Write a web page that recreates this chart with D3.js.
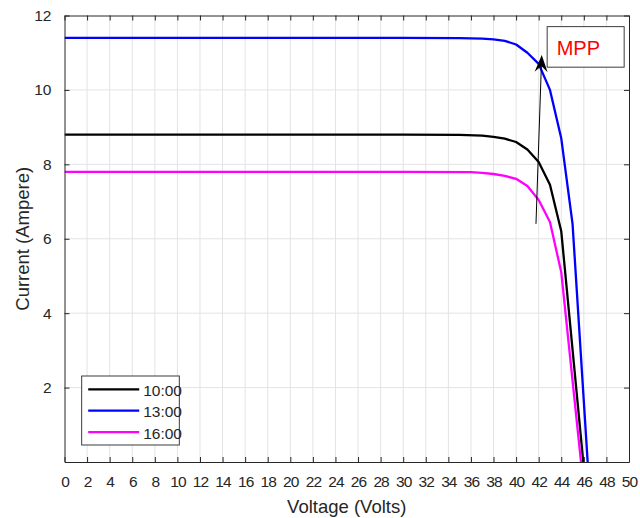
<!DOCTYPE html>
<html>
<head>
<meta charset="utf-8">
<script src="https://cdn.jsdelivr.net/npm/d3@7"></script>
<style>
  body { margin: 0; background: #fff; }
  text { font-family: "Liberation Sans", Arial, sans-serif; fill: #262626; }
</style>
</head>
<body>
<script>
// I-V curves (voltage in V, current in A)
var voltage1000 = [0, 30, 35, 37, 38, 39, 40, 41, 42, 43, 44, 45.95];
var current1000 = [8.8, 8.8, 8.79, 8.77, 8.74, 8.69, 8.6, 8.4, 8.06, 7.45, 6.2, 0];

var voltage1300 = [0, 30, 35, 37, 38, 39, 40, 41, 42, 43, 44, 45, 46.34];
var current1300 = [11.4, 11.4, 11.39, 11.38, 11.36, 11.32, 11.22, 11.0, 10.7, 10.0, 8.7, 6.4, 0];

var voltage1600 = [0, 30, 36, 37, 38, 39, 40, 41, 42, 43, 44, 45.75];
var current1600 = [7.8, 7.8, 7.79, 7.77, 7.74, 7.69, 7.61, 7.42, 7.04, 6.45, 5.1, 0];

var seriesNames = ["10:00", "13:00", "16:00"];
var seriesColors = ["#000000", "#0000ff", "#ff00ff"];

var xTicks = d3.range(0, 51, 2);
var yTicks = [2, 4, 6, 8, 10, 12];

// annotation: arrow tail/head in data units, label
var arrowFrom = [41.76, 6.4];
var arrowTo = [42.27, 10.94];
var mppLabel = "MPP";

// SVG area
var svgWidth = 640;
var svgHeight = 518;
var margin = { top: 15.5, right: 11, bottom: 56, left: 64.5 };
var chartWidth = svgWidth - margin.left - margin.right;
var chartHeight = svgHeight - margin.top - margin.bottom;

var svg = d3.select("body")
  .append("svg")
  .attr("width", svgWidth)
  .attr("height", svgHeight);

var chartGroup = svg.append("g")
  .attr("transform", `translate(${margin.left}, ${margin.top})`);

var xScale = d3.scaleLinear().domain([0, 50]).range([0, chartWidth]);
var yScale = d3.scaleLinear().domain([0, 12]).range([chartHeight, 0]);

// grid
chartGroup.append("g").selectAll("line")
  .data(xTicks.slice(1, -1))
  .enter().append("line")
  .attr("x1", d => xScale(d)).attr("x2", d => xScale(d))
  .attr("y1", 0).attr("y2", chartHeight)
  .attr("stroke", "#e3e3e3").attr("stroke-width", 1);

chartGroup.append("g").selectAll("line")
  .data(yTicks.slice(0, -1))
  .enter().append("line")
  .attr("x1", 0).attr("x2", chartWidth)
  .attr("y1", d => yScale(d)).attr("y2", d => yScale(d))
  .attr("stroke", "#e3e3e3").attr("stroke-width", 1);

// curves
chartGroup.append("clipPath").attr("id", "clip")
  .append("rect").attr("width", chartWidth).attr("height", chartHeight);

var drawLine = d3.line()
  .x(d => xScale(d[0]))
  .y(d => yScale(d[1]));

var allSeries = [
  d3.zip(voltage1000, current1000),
  d3.zip(voltage1300, current1300),
  d3.zip(voltage1600, current1600)
];

allSeries.forEach((pts, i) => {
  chartGroup.append("path")
    .attr("d", drawLine(pts))
    .attr("fill", "none")
    .attr("stroke", seriesColors[i])
    .attr("stroke-width", 2.3)
    .attr("stroke-linejoin", "round")
    .attr("clip-path", "url(#clip)");
});

// axes (ticks inward, box on all sides)
var axisColor = "#262626";
function styleAxis(g) {
  g.select(".domain").attr("stroke", axisColor);
  g.selectAll(".tick line").attr("stroke", axisColor);
}

var bottomAxis = d3.axisBottom(xScale).tickValues(xTicks).tickSizeInner(-5).tickSizeOuter(0).tickPadding(14);
var gx = chartGroup.append("g")
  .attr("transform", `translate(0, ${chartHeight})`)
  .call(bottomAxis)
  .call(styleAxis);
gx.selectAll("text")
  .style("font-size", "15.5px")
  .style("letter-spacing", "-0.9px")
  .attr("fill", axisColor);

var topAxis = d3.axisTop(xScale).tickValues(xTicks).tickSizeInner(-5).tickSizeOuter(0).tickFormat("");
chartGroup.append("g").call(topAxis).call(styleAxis);

var leftAxis = d3.axisLeft(yScale).tickValues(yTicks).tickSizeInner(-5).tickSizeOuter(0).tickPadding(13);
var gy = chartGroup.append("g").call(leftAxis).call(styleAxis);
gy.selectAll("text")
  .style("font-size", "15.5px")
  .attr("fill", axisColor);

var rightAxis = d3.axisRight(yScale).tickValues(yTicks).tickSizeInner(-5).tickSizeOuter(0).tickFormat("");
chartGroup.append("g").attr("transform", `translate(${chartWidth}, 0)`).call(rightAxis).call(styleAxis);

// axis titles
svg.append("text")
  .attr("x", margin.left + chartWidth / 2)
  .attr("y", 513)
  .attr("text-anchor", "middle")
  .style("font-size", "18.5px")
  .text("Voltage (Volts)");

svg.append("text")
  .attr("transform", `translate(29, ${margin.top + chartHeight / 2}) rotate(-90)`)
  .attr("text-anchor", "middle")
  .style("font-size", "18.5px")
  .text("Current (Ampere)");

// MPP arrow
var ax1 = xScale(arrowFrom[0]), ay1 = yScale(arrowFrom[1]);
var ax2 = xScale(arrowTo[0]), ay2 = yScale(arrowTo[1]);
var ang = Math.atan2(ay2 - ay1, ax2 - ax1);
var headLen = 17, headHalf = 6.5, notch = 11;
function pt(along, side) {
  return [ax2 - along * Math.cos(ang) - side * Math.sin(ang),
          ay2 - along * Math.sin(ang) + side * Math.cos(ang)];
}
chartGroup.append("line")
  .attr("x1", ax1).attr("y1", ay1)
  .attr("x2", pt(notch, 0)[0]).attr("y2", pt(notch, 0)[1])
  .attr("stroke", "#000").attr("stroke-width", 1);
chartGroup.append("polygon")
  .attr("points", [pt(0, 0), pt(headLen, headHalf), pt(notch, 0), pt(headLen, -headHalf)].map(p => p.join(",")).join(" "))
  .attr("fill", "#000");

// MPP text box
var boxX = xScale(42.75), boxY = yScale(11.7);
chartGroup.append("rect")
  .attr("x", boxX).attr("y", boxY)
  .attr("width", 77).attr("height", 40.5)
  .attr("fill", "#fff")
  .attr("stroke", "#262626").attr("stroke-width", 0.9);
chartGroup.append("text")
  .attr("x", boxX + 9.5).attr("y", boxY + 28)
  .style("font-size", "20px")
  .style("fill", "#ff0000")
  .text(mppLabel);

// legend
var legend = svg.append("g").attr("transform", "translate(81.7, 376)");
legend.append("rect")
  .attr("width", 97.6).attr("height", 69)
  .attr("fill", "#fff")
  .attr("stroke", "#262626").attr("stroke-width", 0.9);
seriesNames.forEach((name, i) => {
  var yy = 13.3 + i * 21.4;
  legend.append("line")
    .attr("x1", 6.5).attr("x2", 57.5)
    .attr("y1", yy).attr("y2", yy)
    .attr("stroke", seriesColors[i]).attr("stroke-width", 2.3);
  legend.append("text")
    .attr("x", 61.5).attr("y", yy + 6.5)
    .style("font-size", "15.5px")
    .text(name);
});
</script>
</body>
</html>
